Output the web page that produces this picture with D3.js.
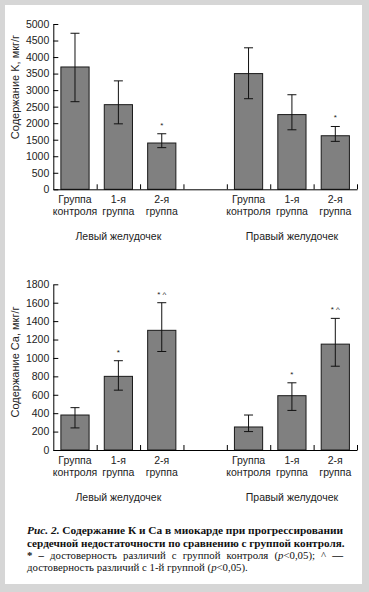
<!DOCTYPE html>
<html lang="ru">
<head>
<meta charset="UTF-8">
<title>Содержание K и Ca</title>
<script src="https://d3js.org/d3.v7.min.js"></script>
<style>
  body { margin: 0; background: #fff; }
  svg text { font-family: "Liberation Sans", Arial, sans-serif; fill: #222; }
  .tick text { font-size: 10.5px; }
  .cat { font-size: 10.5px; text-anchor: middle; }
  .ylab { font-size: 11px; text-anchor: middle; }
  svg text.cap { font-family: "Liberation Serif", "Times New Roman", serif; fill: #111; }
</style>
</head>
<body>
<svg width="369" height="592"></svg>
<script>
// categories and groups
var categories = [["Группа", "контроля"], ["1-я", "группа"], ["2-я", "группа"]];
var groups = ["Левый желудочек", "Правый желудочек"];

// K, mkg/g
var kLeft = [3700, 2560, 1400];
var kLeftLow = [2650, 1980, 1260];
var kLeftHigh = [4720, 3280, 1680];
var kRight = [3500, 2260, 1620];
var kRightLow = [2740, 1800, 1450];
var kRightHigh = [4280, 2860, 1900];
var kMarks = ["", "", "*"];
var kTicks = [0, 500, 1000, 1500, 2000, 2500, 3000, 3500, 4000, 4500, 5000];

// Ca, mkg/g
var caLeft = [380, 800, 1300];
var caLeftLow = [240, 650, 1070];
var caLeftHigh = [460, 970, 1600];
var caRight = [250, 590, 1150];
var caRightLow = [200, 430, 910];
var caRightHigh = [380, 730, 1430];
var caMarks = ["", "*", "* ^"];
var caTicks = [0, 200, 400, 600, 800, 1000, 1200, 1400, 1600, 1800];

var svg = d3.select("svg");

// frame
svg.append("rect").attr("width", 369).attr("height", 592).attr("fill", "#d6d6d6");
svg.append("rect").attr("x", 5).attr("y", 5).attr("width", 357).attr("height", 579).attr("fill", "#fff");

var x0 = 53.3, x1 = 357;
// 7 slots: 3 left bars, an empty gap, 3 right bars
var slots = d3.range(7);
var x = d3.scaleBand().domain(slots).range([x0, x1]).paddingInner(0.35).paddingOuter(0.175);
var xb = d3.scaleLinear().domain([0, 7]).range([x0, x1]);

function panel(opts) {
  var y = d3.scaleLinear().domain([0, opts.max]).range([opts.bottom, opts.top]);
  var g = svg.append("g");

  var rows = [];
  opts.left.forEach(function(v, i) {
    rows.push({ slot: i, v: v, lo: opts.leftLow[i], hi: opts.leftHigh[i], mark: opts.marks[i] });
  });
  opts.right.forEach(function(v, i) {
    rows.push({ slot: i + 4, v: v, lo: opts.rightLow[i], hi: opts.rightHigh[i], mark: opts.marks[i] });
  });

  g.selectAll(".bar").data(rows).enter().append("rect")
    .attr("x", function(d) { return x(d.slot); })
    .attr("y", function(d) { return y(d.v); })
    .attr("width", x.bandwidth())
    .attr("height", function(d) { return y(0) - y(d.v); })
    .attr("fill", "#808080")
    .attr("stroke", "#1a1a1a")
    .attr("stroke-width", 1);

  var cx = function(d) { return x(d.slot) + x.bandwidth() / 2; };
  var err = g.selectAll(".err").data(rows).enter().append("g").attr("stroke", "#111").attr("stroke-width", 1);
  err.append("line").attr("x1", cx).attr("x2", cx)
    .attr("y1", function(d) { return y(d.lo); }).attr("y2", function(d) { return y(d.hi); });
  err.append("line").attr("x1", function(d) { return cx(d) - 4.5; }).attr("x2", function(d) { return cx(d) + 4.5; })
    .attr("y1", function(d) { return y(d.hi); }).attr("y2", function(d) { return y(d.hi); });
  err.append("line").attr("x1", function(d) { return cx(d) - 4.5; }).attr("x2", function(d) { return cx(d) + 4.5; })
    .attr("y1", function(d) { return y(d.lo); }).attr("y2", function(d) { return y(d.lo); });

  g.selectAll(".mark").data(rows.filter(function(d) { return d.mark; })).enter().append("text")
    .attr("x", cx).attr("y", function(d) { return y(d.hi) - 6; })
    .attr("text-anchor", "middle").style("font-size", "8px")
    .text(function(d) { return d.mark; });

  // y axis, ticks inward
  var ya = g.append("g").attr("transform", "translate(" + x0 + ",0)")
    .call(d3.axisLeft(y).tickValues(opts.ticks).tickFormat(d3.format("d"))
      .tickSizeInner(-5).tickSizeOuter(0).tickPadding(4));
  ya.select(".domain").attr("stroke", "#000");
  ya.selectAll(".tick line").attr("stroke", "#000");
  ya.selectAll(".tick text").attr("fill", "#222");

  // x axis with upward ticks between categories
  var xa = g.append("g").attr("transform", "translate(0," + opts.bottom + ")")
    .call(d3.axisBottom(xb).tickValues([1, 2, 3, 4, 5, 6, 7]).tickSizeInner(-5).tickSizeOuter(0).tickFormat(""));
  xa.select(".domain").attr("stroke", "#000");
  xa.selectAll(".tick line").attr("stroke", "#000");

  // category labels
  slots.filter(function(s) { return s !== 3; }).forEach(function(s) {
    var c = categories[s % 4];
    var t = g.append("text").attr("class", "cat").attr("x", x(s) + x.bandwidth() / 2);
    t.append("tspan").attr("y", opts.bottom + 14).text(c[0]);
    t.append("tspan").attr("x", x(s) + x.bandwidth() / 2).attr("y", opts.bottom + 25.5).text(c[1]);
  });

  // group labels
  groups.forEach(function(name, i) {
    g.append("text").attr("class", "cat")
      .attr("x", (xb(i * 4) + xb(i * 4 + 3)) / 2)
      .attr("y", opts.bottom + 50.5)
      .text(name);
  });

  g.append("text").attr("class", "ylab")
    .attr("transform", "translate(19," + opts.labelY + ") rotate(-90)")
    .text(opts.label);
}

panel({ max: 5000, top: 24, bottom: 189.3, ticks: kTicks,
  left: kLeft, leftLow: kLeftLow, leftHigh: kLeftHigh,
  right: kRight, rightLow: kRightLow, rightHigh: kRightHigh,
  marks: kMarks, label: "Содержание K, мкг/г", labelY: 87 });

panel({ max: 1800, top: 284.3, bottom: 450, ticks: caTicks,
  left: caLeft, leftLow: caLeftLow, leftHigh: caLeftHigh,
  right: caRight, rightLow: caRightLow, rightHigh: caRightHigh,
  marks: caMarks, label: "Содержание Ca, мкг/г", labelY: 362 });

// caption: font size scaled so each line spans its width in the reference
function fit(t, width, base) {
  var w = t.node().getComputedTextLength();
  t.style("font-size", (base * width / w).toFixed(2) + "px");
}

var c1 = svg.append("text").attr("class", "cap").attr("x", 27).attr("y", 534)
  .style("font-size", "12px").style("font-weight", "bold");
c1.append("tspan").style("font-style", "italic").text("Рис. 2.");
c1.append("tspan").text(" Содержание К и Са в миокарде при прогрессировании");
fit(c1, 316, 12);

var c2 = svg.append("text").attr("class", "cap").attr("x", 27).attr("y", 546.5)
  .style("font-size", "12px").style("font-weight", "bold")
  .text("сердечной недостаточности по сравнению с группой контроля.");
fit(c2, 318, 12);

// last line sets the body size; the line above it is justified
var c4 = svg.append("text").attr("class", "cap").attr("x", 27).attr("y", 571)
  .style("font-size", "11px");
c4.append("tspan").text("достоверность различий с 1-й группой (");
c4.append("tspan").style("font-style", "italic").text("p");
c4.append("tspan").text("<0,05).");
fit(c4, 221, 11);

var c3 = svg.append("text").attr("class", "cap").attr("x", 27).attr("y", 558.5)
  .style("font-size", c4.style("font-size"));
c3.append("tspan").style("font-weight", "bold").text("* –");
c3.append("tspan").text(" достоверность различий с группой контроля (");
c3.append("tspan").style("font-style", "italic").text("p");
c3.append("tspan").text("<0,05); ^ ");
c3.append("tspan").style("font-weight", "bold").text("—");
var w3 = c3.node().getComputedTextLength();
c3.style("word-spacing", ((316 - w3) / 9).toFixed(2) + "px");
</script>
</body>
</html>
